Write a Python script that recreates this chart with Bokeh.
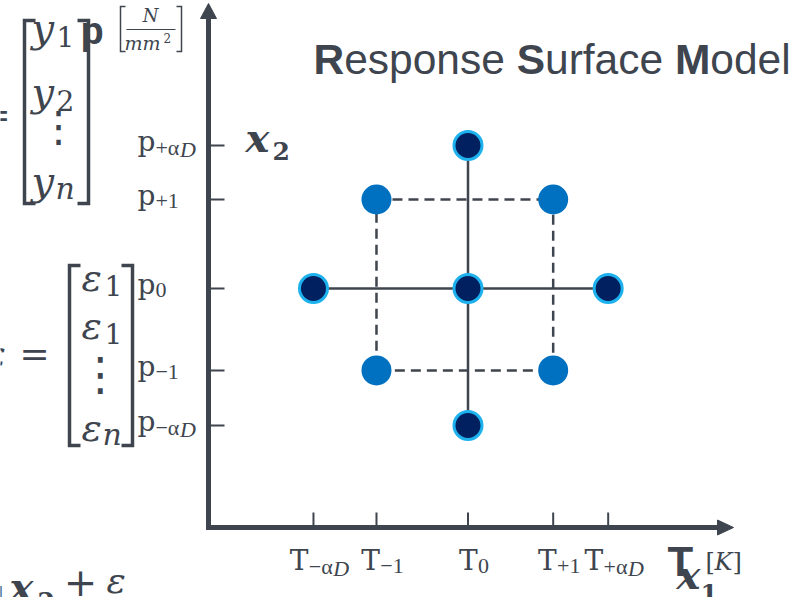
from bokeh.plotting import figure
from bokeh.models import Range1d
from bokeh.core.properties import value
from bokeh.embed import file_html
from bokeh.resources import INLINE

# ---------------- data (coded design levels) ----------------
x_levels = [-1.756, -1.040, 0.0, 0.968, 1.593]      # T-aD, T-1, T0, T+1, T+aD
y_levels = [1.663, 1.035, 0.0, -0.953, -1.593]      # p+aD, p+1, p0, p-1, p-aD
x_sub_upright = ["\u2212\u03b1", "\u22121", "0", "+1", "+\u03b1"]
x_sub_italic = ["D", "", "", "", "D"]
y_sub_upright = ["+\u03b1", "+1", "0", "\u22121", "\u2212\u03b1"]
y_sub_italic = ["D", "", "", "", "D"]

# axial + centre points (star points) and factorial (corner) points
star_x = [x_levels[0], x_levels[4], x_levels[2], x_levels[2], x_levels[2]]
star_y = [y_levels[2], y_levels[2], y_levels[0], y_levels[4], y_levels[2]]
fact_x = [x_levels[1], x_levels[3], x_levels[3], x_levels[1]]
fact_y = [y_levels[1], y_levels[1], y_levels[3], y_levels[3]]

title_parts = [("R", True), ("esponse ", False), ("S", True), ("urface ", False), ("M", True), ("odel", False)]

# ---------------- layout helpers (screen pixel -> data) ----------------
CX, CY, SX, SY = 467.5, 288.0, 88.0, 86.0
X = lambda px: (px - CX) / SX
Y = lambda py: (CY - py) / SY
K = 0.37   # baseline correction (fraction of font size)

DARK = "#3E454E"
NAVY = "#002060"
BLUE = "#0070C0"
CYAN = "#1DB2EE"
SERIF = "DejaVu Serif"
TSERIF = "Liberation Serif"
SANS = "Liberation Sans"

W, H = 801, 597
p = figure(width=W, height=H, x_range=Range1d(X(0), X(W)), y_range=Range1d(Y(H), Y(0)),
           output_backend="svg", toolbar_location=None, min_border=0,
           x_axis_location=None, y_axis_location=None, outline_line_color=None)
p.grid.visible = False
p.background_fill_color = "white"


def txt(px, py, s, size, font=SERIF, style="normal", align="left", color=DARK):
    p.text(x=[X(px)], y=[Y(py - K * size)], text=[s], text_font=value(font), text_font_size=f"{size}px",
           text_font_style=style, text_align=align, text_baseline="alphabetic", text_color=color)


def bracket(px, py0, py1, serif, lw):
    p.line([X(px + serif), X(px), X(px), X(px + serif)], [Y(py0), Y(py0), Y(py1), Y(py1)],
           line_width=lw, line_color=DARK, line_join="miter", line_cap="butt")


# ---------------- axes with arrows ----------------
ax0, ay0 = X(208), Y(527)
p.segment(x0=[ax0], y0=[Y(529.5)], x1=[ax0], y1=[Y(16)], line_width=5, line_color=DARK)
p.segment(x0=[X(205.5)], y0=[ay0], x1=[X(718)], y1=[ay0], line_width=5, line_color=DARK)
p.patch([X(200), X(208), X(216)], [Y(18), Y(3), Y(18)], fill_color=DARK, line_color=DARK)
p.patch([X(717), X(733), X(717)], [Y(519.5), Y(527), Y(534.5)], fill_color=DARK, line_color=DARK)

# ticks
p.segment(x0=x_levels, y0=[ay0] * 5, x1=x_levels, y1=[Y(512)] * 5, line_width=2, line_color=DARK)
p.segment(x0=[ax0] * 5, y0=y_levels, x1=[X(224)] * 5, y1=y_levels, line_width=2, line_color=DARK)

# x tick labels: "T" + subscript
LS = {"\u2212": 0.564, "+": 0.564, "\u03b1": 0.55, "0": 0.5, "1": 0.5}
T_SIZE, S_SIZE = 28, 22
T_W = 0.68 * T_SIZE
for i, xv in enumerate(x_levels):
    up_w = sum(LS[c] for c in x_sub_upright[i]) * S_SIZE
    it_w = 0.722 * S_SIZE if x_sub_italic[i] else 0
    left = 6 - (T_W + up_w + it_w) / 2
    p.text(x=[xv], y=[Y(570 - K * T_SIZE)], text=["T"], x_offset=[left], text_font=value(SERIF),
           text_font_size=f"{T_SIZE}px", text_color=DARK, text_baseline="alphabetic")
    p.text(x=[xv], y=[Y(574 - K * S_SIZE)], text=[x_sub_upright[i]], x_offset=[left + T_W],
           text_font=value(TSERIF), text_font_size=f"{S_SIZE}px", text_color=DARK,
           text_baseline="alphabetic")
    if x_sub_italic[i]:
        p.text(x=[xv], y=[Y(576 - K * S_SIZE)], text=[x_sub_italic[i]], x_offset=[left + T_W + up_w],
               text_font=value(TSERIF), text_font_style="italic", text_font_size=f"{S_SIZE}px",
               text_color=DARK, text_baseline="alphabetic")

# y tick labels: "p" + subscript, left aligned
P_W = 0.64 * T_SIZE
for i, yv in enumerate(y_levels):
    up_w = sum(LS[c] for c in y_sub_upright[i]) * S_SIZE
    p.text(x=[X(137)], y=[yv - (6 - K * T_SIZE) / SY], text=["p"], text_font=value(SERIF),
           text_font_size=f"{T_SIZE}px", text_color=DARK, text_baseline="alphabetic")
    p.text(x=[X(137 + P_W)], y=[yv - (10 - K * S_SIZE) / SY], text=[y_sub_upright[i]],
           text_font=value(TSERIF), text_font_size=f"{S_SIZE}px", text_color=DARK,
           text_baseline="alphabetic")
    if y_sub_italic[i]:
        p.text(x=[X(137 + P_W + up_w)], y=[yv - (12 - K * S_SIZE) / SY], text=[y_sub_italic[i]],
               text_font=value(TSERIF), text_font_style="italic", text_font_size=f"{S_SIZE}px",
               text_color=DARK, text_baseline="alphabetic")

# ---------------- design lines ----------------
p.segment(x0=[x_levels[0]], y0=[y_levels[2]], x1=[x_levels[4]], y1=[y_levels[2]], line_width=2.5, line_color=DARK)
p.segment(x0=[x_levels[2]], y0=[y_levels[4]], x1=[x_levels[2]], y1=[y_levels[0]], line_width=2.5, line_color=DARK)
p.line(fact_x + [fact_x[0]], fact_y + [fact_y[0]], line_width=2.5, line_color=DARK, line_dash="10 6")

# ---------------- design points ----------------
p.scatter(x=fact_x, y=fact_y, size=30, fill_color=BLUE, line_color=None)
p.scatter(x=star_x, y=star_y, size=28, fill_color=NAVY, line_color=CYAN, line_width=3)

# ---------------- title ----------------
AW = {"R": .722, "e": .556, "s": .5, "p": .556, "o": .556, "n": .556, " ": .278, "S": .667, "u": .556,
      "r": .333, "f": .278, "a": .556, "c": .5, "M": .833, "d": .556, "l": .222}
TS = 42.5
cx = 313
for s, bold in title_parts:
    txt(cx, 75, s, TS, font=SANS, style="bold" if bold else "normal")
    cx += sum(AW[c] for c in s) * TS

# ---------------- axis names ----------------
txt(245, 152, "x", 40, style="bold italic")
txt(272, 160, "2", 25, style="bold")
txt(80, 45, "p", 38, font=SANS, style="bold")
bracket(120, 6, 51, 5, 1.5)
bracket(181, 6, 51, -5, 1.5)
txt(150, 22, "N", 18, style="italic", align="center")
p.segment(x0=[X(126)], y0=[Y(29)], x1=[X(175)], y1=[Y(29)], line_width=1.2, line_color=DARK)
txt(124, 50, "mm", 19, style="italic")
txt(163, 42, "2", 12)
txt(667, 577, "T", 42, font=SANS, style="bold")
txt(676, 589, "x", 40, style="bold italic")
txt(700, 602, "1", 25, style="bold")
txt(705, 570, "[", 24)
txt(714, 570, "K", 24, style="italic")
txt(732, 570, "]", 24)

# ---------------- left matrices (partially cut formula) ----------------
txt(-20, 127, "=", 36)
bracket(24, 20, 203, 11, 3.5)
bracket(88, 20, 203, -11, 3.5)
for base, sub in [(42, "1"), (106, "2"), (195, "n")]:
    txt(31, base, "y", 40, style="italic")
    if sub == "n":
        txt(55, base + 4, "n", 30, style="italic")
    else:
        txt(56, base + 4, sub, 28)
txt(58, 142, "\u22ee", 42, font="DejaVu Sans", align="center")

bracket(69, 265, 445, 11, 3.5)
bracket(132, 265, 445, -11, 3.5)
txt(-14, 366, "\u03b5", 36, style="italic")
txt(34, 366, "=", 36, align="center")
for base, sub in [(292, "1"), (340, "1"), (442, "n")]:
    txt(81, base, "\u03b5", 38, style="italic")
    if sub == "n":
        txt(102, base + 3, "n", 30, style="italic")
    else:
        txt(104, base + 3, sub, 28)
txt(100, 391, "\u22ee", 46, font="DejaVu Sans", align="center")

txt(-10, 603, "1", 24, style="bold")
txt(9, 601, "x", 40, style="bold italic")
txt(37, 610, "2", 25, style="bold")
txt(80, 596, "+", 40, align="center")
txt(106, 593, "\u03b5", 36, style="italic")

open("out.html", "w").write(file_html(p, INLINE))
